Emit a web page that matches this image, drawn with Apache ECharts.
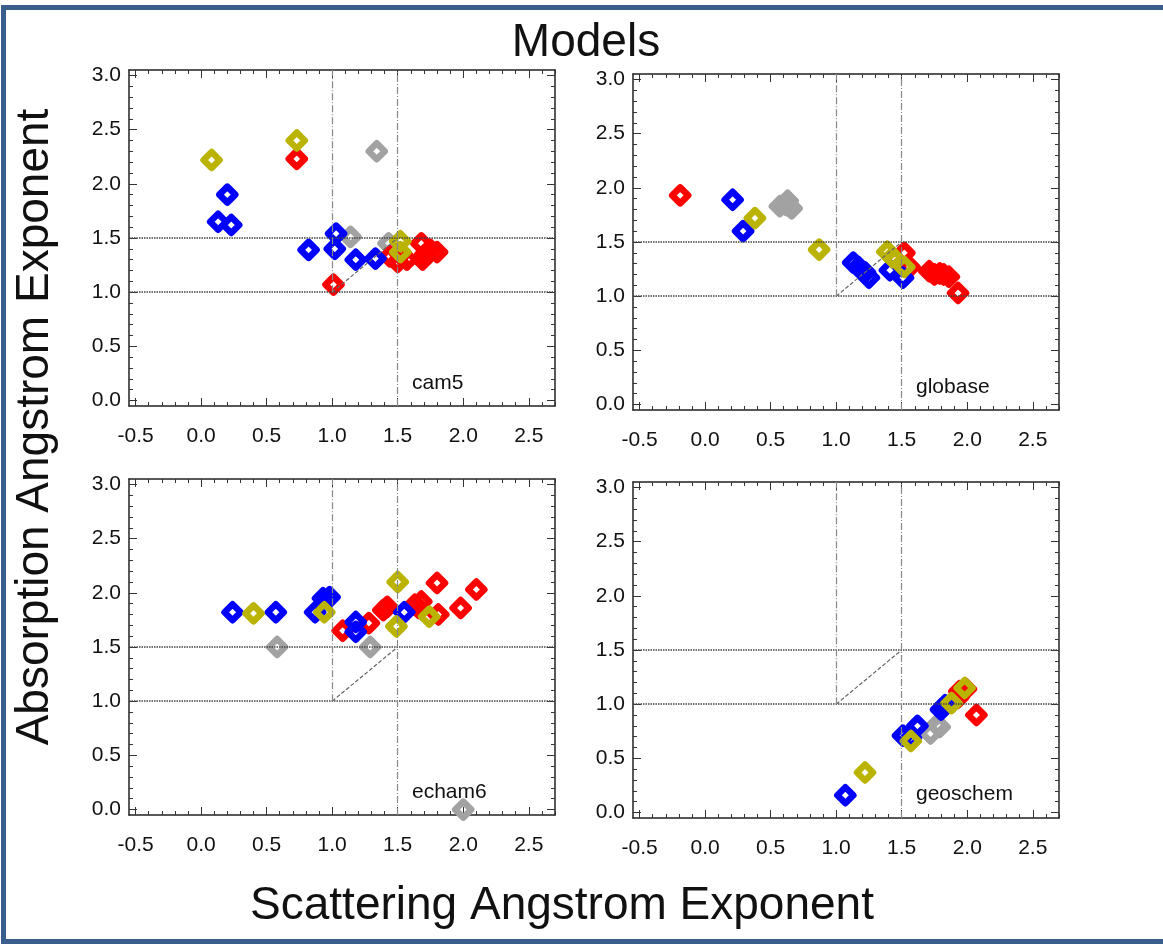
<!DOCTYPE html>
<html>
<head>
<meta charset="utf-8">
<script src="https://cdn.jsdelivr.net/npm/echarts@6/dist/echarts.min.js"></script>
<style>
  html, body { margin: 0; padding: 0; background: #fff; overflow: hidden; }
  #main { position: absolute; left: 0; top: 0; width: 1163px; height: 944px; }
  #frame { position: absolute; left: 1px; top: 5px; width: 1180px; height: 939px;
           box-sizing: border-box; border: 5px solid #3a5e8c; pointer-events: none; }
</style>
</head>
<body>
<div id="main"></div>
<div id="frame"></div>
<script>
// axis extents (IDL style, a little past the tick range)
var xRange = [-0.55, 2.7]
var yRange = [-0.05, 3.05]
var xLabels = [-0.5, 0.0, 0.5, 1.0, 1.5, 2.0, 2.5]
var yLabels = [0.0, 0.5, 1.0, 1.5, 2.0, 2.5, 3.0]

var models = ['cam5', 'globase', 'echam6', 'geoschem']
var colors = { red: '#ff0000', blue: '#0000ff', yellow: '#bab400', gray: '#a2a2a2' }

// reference box: horizontals at 1.0 / 1.5, verticals at 1.0 (upper half) and 1.5, diagonal 1,1 -> 1.5,1.5
var hLevels = [1.0, 1.5]
var vFull = 1.5
var vUpper = 1.0
var diag = [[1.0, 1.0], [1.5, 1.5]]

// [scattering AE, absorption AE]
var cam5Gray = [[1.34, 2.30], [1.14, 1.51], [1.43, 1.45]]
var cam5Red = [[1.01, 1.07], [0.73, 2.23], [1.44, 1.33], [1.50, 1.28], [1.52, 1.35], [1.57, 1.30],
  [1.68, 1.45], [1.69, 1.30], [1.71, 1.35], [1.75, 1.39], [1.80, 1.37]]
var cam5Blue = [[0.20, 1.90], [0.13, 1.65], [0.23, 1.62], [1.03, 1.54], [0.82, 1.39], [1.02, 1.40],
  [1.18, 1.30], [1.33, 1.31]]
var cam5Yellow = [[0.08, 2.22], [0.73, 2.40], [1.52, 1.47], [1.52, 1.37]]

var globaseGray = [[0.57, 1.83], [0.63, 1.88], [0.66, 1.81], [0.62, 1.84]]
var globaseRed = [[-0.19, 1.93], [1.52, 1.40], [1.56, 1.27], [1.71, 1.23], [1.75, 1.20], [1.79, 1.21],
  [1.82, 1.20], [1.86, 1.18], [1.93, 1.03]]
var globaseBlue = [[0.21, 1.89], [0.29, 1.60], [1.13, 1.31], [1.17, 1.27], [1.22, 1.22], [1.25, 1.17],
  [1.41, 1.24], [1.51, 1.17]]
var globaseYellow = [[0.38, 1.72], [0.87, 1.43], [1.39, 1.41], [1.43, 1.36], [1.52, 1.27]]

var echam6Gray = [[0.58, 1.50], [1.29, 1.50], [2.00, 0.00]]
var echam6Red = [[1.08, 1.65], [1.28, 1.72], [1.39, 1.84], [1.42, 1.87], [1.63, 1.89], [1.68, 1.92],
  [1.66, 1.86], [1.80, 2.09], [1.81, 1.80], [1.98, 1.86], [2.10, 2.03]]
var echam6Blue = [[0.24, 1.82], [0.57, 1.82], [0.87, 1.82], [0.93, 1.95], [0.98, 1.96], [1.18, 1.73],
  [1.18, 1.64], [1.55, 1.82]]
var echam6Yellow = [[0.40, 1.81], [0.94, 1.82], [1.50, 2.10], [1.49, 1.69], [1.74, 1.78]]

var geoschemGray = [[1.72, 0.73], [1.77, 0.81], [1.79, 0.79]]
var geoschemRed = [[1.93, 1.06], [1.94, 1.12], [1.99, 1.14], [2.07, 0.90]]
var geoschemBlue = [[1.07, 0.16], [1.51, 0.71], [1.57, 0.69], [1.62, 0.80], [1.80, 0.95], [1.83, 0.99]]
var geoschemYellow = [[1.22, 0.37], [1.57, 0.66], [1.88, 1.01], [1.98, 1.15]]

var panelData = [
  { gray: cam5Gray, red: cam5Red, blue: cam5Blue, yellow: cam5Yellow },
  { gray: globaseGray, red: globaseRed, blue: globaseBlue, yellow: globaseYellow },
  { gray: echam6Gray, red: echam6Red, blue: echam6Blue, yellow: echam6Yellow },
  { gray: geoschemGray, red: geoschemRed, blue: geoschemBlue, yellow: geoschemYellow }
]

var font = 'Liberation Sans, Arial, Helvetica, sans-serif'
var grids = [
  { left: 129, top: 70, width: 426, height: 336 },
  { left: 633, top: 74, width: 426, height: 336 },
  { left: 129, top: 479, width: 426, height: 336 },
  { left: 633, top: 482, width: 426, height: 336 }
]

// minor ticks every 0.1 inside the range
function minorTicks (range) {
  var out = []
  for (var i = Math.ceil(range[0] * 10 - 1e-9); i <= Math.floor(range[1] * 10 + 1e-9); i++) out.push(i / 10)
  return out
}

function makeAxes (g, range, labels, sides) {
  var list = []
  var minor = minorTicks(range)
  sides.forEach(function (side, s) {
    [minor, labels].forEach(function (ticks, k) {
      list.push({
        gridIndex: g, type: 'value', position: side,
        min: range[0], max: range[1],
        axisLine: { show: k === 0, onZero: false, lineStyle: { color: '#222', width: 1.5 } },
        axisTick: { show: true, inside: true, length: k === 0 ? 4 : 8, customValues: ticks, lineStyle: { color: '#333', width: 1 } },
        axisLabel: {
          show: s === 0 && k === 1, customValues: labels,
          formatter: function (v) { return Number(v).toFixed(1) },
          color: '#111', fontSize: 21, fontFamily: font, margin: side === 'bottom' ? 20 : 8
        },
        splitLine: { show: false }
      })
    })
  })
  return list
}

var xAxis = [], yAxis = [], series = []
grids.forEach(function (gr, g) {
  xAxis = xAxis.concat(makeAxes(g, xRange, xLabels, ['bottom', 'top']))
  yAxis = yAxis.concat(makeAxes(g, yRange, yLabels, ['left', 'right']))
  var xi = g * 4, yi = g * 4
  // reference lines
  series.push({
    type: 'line', xAxisIndex: xi, yAxisIndex: yi, data: diag, showSymbol: false, silent: true,
    lineStyle: { color: '#666', width: 1.2, type: [4, 2] },
    markLine: {
      silent: true, symbol: 'none', label: { show: false },
      data: hLevels.map(function (v) {
        return { yAxis: v, lineStyle: { color: '#444', width: 1.5, type: [1.5, 1] } }
      }).concat([
        { xAxis: vFull, lineStyle: { color: '#888', width: 1.2, type: [7, 2, 1, 2] } },
        [{ coord: [vUpper, vUpper], lineStyle: { color: '#888', width: 1.2, type: [7, 2, 1, 2] } }, { coord: [vUpper, yRange[1]] }]
      ])
    }
  })
  ;['gray', 'red', 'blue', 'yellow'].forEach(function (c) {
    series.push({
      type: 'scatter', name: models[g] + ' ' + c, xAxisIndex: xi, yAxisIndex: yi,
      data: panelData[g][c], symbol: 'diamond', symbolSize: 16, silent: true,
      itemStyle: { color: 'rgba(0,0,0,0)', borderColor: colors[c], borderWidth: 6.5, borderJoin: 'round', opacity: 1 }
    })
  })
})

var labelPos = [[412, 383], [916, 387], [412, 792], [916, 794]]
var graphic = models.map(function (m, i) {
  return {
    type: 'text', x: labelPos[i][0], y: labelPos[i][1],
    style: { text: m, fontSize: 21, fontFamily: font, fill: '#111', verticalAlign: 'middle', align: 'left' }
  }
}).concat([
  { type: 'text', x: 586, y: 43, style: { text: 'Models', fontSize: 46, fontFamily: font, fill: '#111', align: 'center', verticalAlign: 'middle' } },
  { type: 'text', x: 562, y: 906, style: { text: 'Scattering Angstrom Exponent', fontSize: 46, fontFamily: font, fill: '#111', align: 'center', verticalAlign: 'middle' } },
  { type: 'text', x: 35, y: 427, rotation: Math.PI / 2, style: { text: 'Absorption Angstrom Exponent', fontSize: 46, fontFamily: font, fill: '#111', align: 'center', verticalAlign: 'middle' } }
])

var myChart = echarts.init(document.getElementById('main'))
myChart.setOption({
  animation: false,
  backgroundColor: '#fff',
  grid: grids,
  xAxis: xAxis,
  yAxis: yAxis,
  series: series,
  graphic: graphic
})
</script>
</body>
</html>
